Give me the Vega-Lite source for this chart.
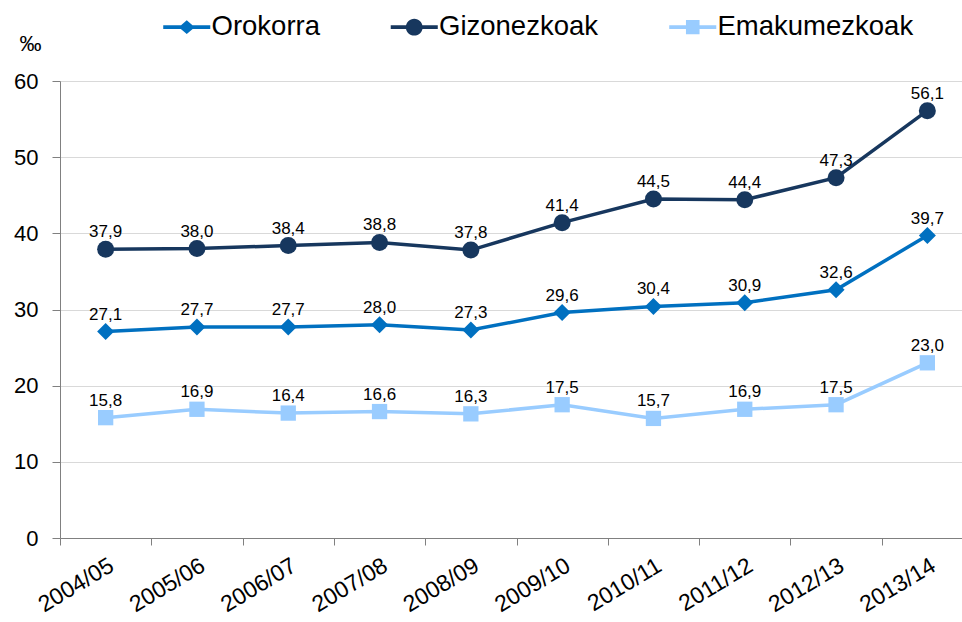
{
  "$schema": "https://vega.github.io/schema/vega-lite/v6.json",
  "width": 902,
  "height": 457,
  "autosize": {"type": "none"},
  "padding": {"left": 60, "top": 81, "right": 0, "bottom": 84},
  "background": "white",
  "config": {
    "locale": {"number": {"decimal": ",", "thousands": ".", "grouping": [3], "currency": ["", " €"]}},
    "font": "Liberation Sans",
    "view": {"stroke": null}
  },
  "data": {
    "values": [
      {"period": "2004/05", "series": "Orokorra", "value": 27.1},
      {"period": "2005/06", "series": "Orokorra", "value": 27.7},
      {"period": "2006/07", "series": "Orokorra", "value": 27.7},
      {"period": "2007/08", "series": "Orokorra", "value": 28.0},
      {"period": "2008/09", "series": "Orokorra", "value": 27.3},
      {"period": "2009/10", "series": "Orokorra", "value": 29.6},
      {"period": "2010/11", "series": "Orokorra", "value": 30.4},
      {"period": "2011/12", "series": "Orokorra", "value": 30.9},
      {"period": "2012/13", "series": "Orokorra", "value": 32.6},
      {"period": "2013/14", "series": "Orokorra", "value": 39.7},
      {"period": "2004/05", "series": "Gizonezkoak", "value": 37.9},
      {"period": "2005/06", "series": "Gizonezkoak", "value": 38.0},
      {"period": "2006/07", "series": "Gizonezkoak", "value": 38.4},
      {"period": "2007/08", "series": "Gizonezkoak", "value": 38.8},
      {"period": "2008/09", "series": "Gizonezkoak", "value": 37.8},
      {"period": "2009/10", "series": "Gizonezkoak", "value": 41.4},
      {"period": "2010/11", "series": "Gizonezkoak", "value": 44.5},
      {"period": "2011/12", "series": "Gizonezkoak", "value": 44.4},
      {"period": "2012/13", "series": "Gizonezkoak", "value": 47.3},
      {"period": "2013/14", "series": "Gizonezkoak", "value": 56.1},
      {"period": "2004/05", "series": "Emakumezkoak", "value": 15.8},
      {"period": "2005/06", "series": "Emakumezkoak", "value": 16.9},
      {"period": "2006/07", "series": "Emakumezkoak", "value": 16.4},
      {"period": "2007/08", "series": "Emakumezkoak", "value": 16.6},
      {"period": "2008/09", "series": "Emakumezkoak", "value": 16.3},
      {"period": "2009/10", "series": "Emakumezkoak", "value": 17.5},
      {"period": "2010/11", "series": "Emakumezkoak", "value": 15.7},
      {"period": "2011/12", "series": "Emakumezkoak", "value": 16.9},
      {"period": "2012/13", "series": "Emakumezkoak", "value": 17.5},
      {"period": "2013/14", "series": "Emakumezkoak", "value": 23.0}
    ]
  },
  "encoding": {
    "x": {
      "field": "period",
      "type": "ordinal",
      "sort": null,
      "bandPosition": 0.5,
      "scale": {"type": "band", "range": [0, 913], "paddingInner": 0, "paddingOuter": 0},
      "axis": {
        "title": null,
        "labelAngle": -31,
        "labelAlign": "right",
        "labelBaseline": "top",
        "labelFontSize": 23,
        "labelFont": "Liberation Sans",
        "labelColor": "black",
        "labelPadding": 9,
        "labelDx": -2,
        "tickBand": "extent",
        "tickSize": 7,
        "tickColor": "#808080",
        "domainColor": "#808080",
        "grid": false
      }
    },
    "y": {
      "field": "value",
      "type": "quantitative",
      "scale": {"domain": [0, 60], "nice": false},
      "axis": {
        "values": [0, 10, 20, 30, 40, 50, 60],
        "title": "‰",
        "titleAngle": 0,
        "titleX": -30,
        "titleY": -38,
        "titleAlign": "center",
        "titleBaseline": "middle",
        "titleFontSize": 22,
        "titleFontWeight": "normal",
        "titleFont": "Liberation Sans",
        "titleColor": "black",
        "labelFontSize": 22,
        "labelFont": "Liberation Sans",
        "labelColor": "black",
        "labelPadding": 14,
        "tickSize": 8,
        "tickColor": "#808080",
        "domainColor": "#808080",
        "grid": true,
        "gridColor": "#D9D9D9"
      }
    },
    "color": {
      "field": "series",
      "type": "nominal",
      "scale": {"domain": ["Orokorra", "Gizonezkoak", "Emakumezkoak"], "range": ["#0070C0", "#17375E", "#99CCFF"]},
      "legend": {
        "orient": "none",
        "legendX": 113,
        "legendY": -68,
        "direction": "horizontal",
        "columns": 3,
        "title": null,
        "padding": 0,
        "labelFontSize": 27.5,
        "labelFont": "Liberation Sans",
        "labelColor": "black",
        "labelOffset": 11,
        "labelLimit": 400,
        "columnPadding": 70.5,
        "symbolSize": 256,
        "symbolStrokeWidth": 0,
        "symbolOpacity": 1,
        "encode": {
          "symbols": {
            "update": {
              "shape": {"signal": "datum.value === 'Orokorra' ? 'M-2.94,-0.22L2.94,-0.22L2.94,0.22L-2.94,0.22ZM0,-0.85L1,0L0,0.85L-1,0Z' : datum.value === 'Gizonezkoak' ? 'M-2.94,-0.22L2.94,-0.22L2.94,0.22L-2.94,0.22ZM-1.05,0A1.05,1.05,0,1,1,1.05,0A1.05,1.05,0,1,1,-1.05,0Z' : 'M-2.94,-0.22L2.94,-0.22L2.94,0.22L-2.94,0.22ZM-0.85,-0.9L0.85,-0.9L0.85,0.9L-0.85,0.9Z'"},
              "size": {"value": 256},
              "fill": {"scale": "color", "field": "value"},
              "opacity": {"value": 1},
              "strokeWidth": {"value": 0}
            }
          }
        }
      }
    }
  },
  "layer": [
    {
      "mark": {"type": "line", "strokeWidth": 3.5}
    },
    {
      "mark": {"type": "point", "filled": true, "opacity": 1},
      "encoding": {
        "shape": {
          "condition": [
            {"test": "datum.series === 'Orokorra'", "value": "diamond"},
            {"test": "datum.series === 'Gizonezkoak'", "value": "circle"}
          ],
          "value": "square"
        },
        "size": {
          "condition": {"test": "datum.series === 'Emakumezkoak'", "value": 234},
          "value": 289
        }
      }
    },
    {
      "mark": {"type": "text", "baseline": "alphabetic", "dy": -12, "fontSize": 17, "font": "Liberation Sans"},
      "encoding": {
        "text": {"field": "value", "type": "quantitative", "format": ".1f"},
        "color": {"value": "black"}
      }
    }
  ]
}
